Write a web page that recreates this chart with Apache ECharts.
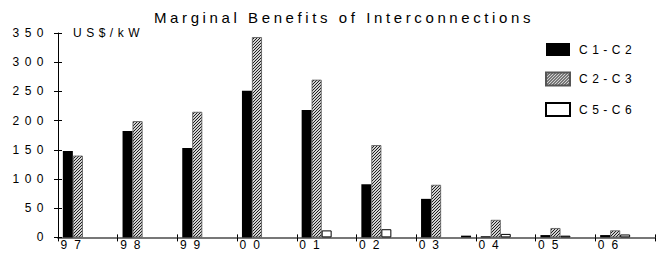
<!DOCTYPE html>
<html><head><meta charset="utf-8">
<script src="https://cdn.jsdelivr.net/npm/echarts@6/dist/echarts.min.js"></script>
<style>html,body{margin:0;padding:0;background:#fff}#c{width:662px;height:258px}</style>
</head><body><div id="c"></div>
<script>
// ---- data ----
const categories = ['97','98','99','00','01','02','03','04','05','06'];
const c1c2 = [148, 182, 153, 251, 218, 91, 66, 2, 4, 4];
const c2c3 = [140, 199, 215, 343, 270, 158, 90, 30, 16, 12];
const c5c6 = [null, null, null, null, 12, 14, null, 6, 3, 5];
// empty slot and an unlabeled (not in legend) small black series seen in the source
const emptySlot = [null, null, null, null, null, null, null, null, null, null];
const unlabeled = [null, null, null, -4, null, -3, 3, null, null, null];
const yMin = 0, yMax = 350, yStep = 50;
const titleText = 'Marginal Benefits of Interconnections';
const unitText = 'US$/kW';
const legendNames = ['C1-C2', 'C2-C3', 'C5-C6'];

function hatch() {
  const c = document.createElement('canvas');
  c.width = 3; c.height = 3;
  const x = c.getContext('2d');
  for (let j = 0; j < 3; j++) for (let i = 0; i < 3; i++) {
    x.fillStyle = ((i + j) % 3 === 0) ? '#1e1e1e' : '#d2d2d2';
    x.fillRect(i, j, 1, 1);
  }
  return c;
}
const hatchFill = { image: hatch(), repeat: 'repeat' };

const chart = echarts.init(document.getElementById('c'), null, { renderer: 'svg' });
const font = 'Liberation Sans, Arial, sans-serif';
const bw = 10;
chart.setOption({
  animation: false,
  backgroundColor: '#fff',
  textStyle: { fontFamily: font, color: '#000' },
  title: {
    text: titleText, left: 339, top: 5, textAlign: 'center',
    textStyle: { fontSize: 15, fontWeight: 'normal', color: '#000', fontFamily: font }
  },
  legend: {
    data: legendNames, orient: 'vertical', left: 545, top: 43, padding: 0,
    itemWidth: 24, itemHeight: 13, itemGap: 15.5, icon: 'rect',
    textStyle: { fontSize: 12, color: '#000', fontFamily: font, padding: [0, 0, 0, 4] }
  },
  grid: { left: 58, right: 7, top: 33, bottom: 20.6, containLabel: false },
  xAxis: [{
    type: 'category', data: categories,
    axisLine: { show: true, lineStyle: { color: '#777', width: 2 } },
    axisTick: { show: true, length: 4, lineStyle: { color: '#000' } },
    axisLabel: { align: 'right', margin: 2, fontSize: 12, color: '#000', fontFamily: font }
  }, {
    type: 'category', data: categories, position: 'bottom',
    axisLine: { show: false },
    axisTick: { show: true, inside: true, length: 3, lineStyle: { color: '#000' } },
    axisLabel: { show: false }
  }],
  yAxis: [{
    type: 'value', min: yMin, max: yMax, interval: yStep,
    name: unitText, nameLocation: 'end', nameGap: 0,
    nameTextStyle: { align: 'left', verticalAlign: 'middle', padding: [0, 0, 0, 15], fontSize: 12, color: '#000', fontFamily: font },
    axisLine: { show: true, lineStyle: { color: '#000', width: 1 } },
    axisTick: { show: true, length: 4, lineStyle: { color: '#000' } },
    splitLine: { show: false },
    axisLabel: { margin: 9, fontSize: 12, color: '#000', fontFamily: font }
  }, {
    type: 'value', min: yMin, max: yMax, interval: yStep, position: 'left',
    axisLine: { show: false },
    axisTick: { show: true, inside: true, length: 4, lineStyle: { color: '#000' } },
    axisLabel: { show: false }, splitLine: { show: false }
  }],
  series: [
    { name: 'C1-C2', type: 'bar', data: c1c2, barWidth: bw, barGap: '0%', itemStyle: { color: '#000' } },
    { name: 'C2-C3', type: 'bar', data: c2c3, barWidth: bw, barGap: '0%', itemStyle: { color: hatchFill, borderColor: '#555', borderWidth: 0.8 } },
    { name: 'C5-C6', type: 'bar', data: c5c6, barWidth: bw, barGap: '0%', itemStyle: { color: '#fff', borderColor: '#000', borderWidth: 1 } },
    { name: 'slot', type: 'bar', data: emptySlot, barWidth: bw, barGap: '0%', itemStyle: { color: '#000' } },
    { name: 'unlabeled', type: 'bar', data: unlabeled, barWidth: bw, barGap: '0%', itemStyle: { color: '#000' } }
  ]
});

function applySpacing() {
  document.querySelectorAll('#c svg text').forEach(t => {
    const s = t.textContent;
    let ls = 5.5;
    if (s === titleText) ls = 3.6;
    else if (categories.indexOf(s) >= 0) ls = 7;
    else if (legendNames.indexOf(s) >= 0 || s === unitText) ls = 4.5;
    t.setAttribute('letter-spacing', ls + 'px');
  });
}
applySpacing();
chart.on('finished', applySpacing);
setTimeout(applySpacing, 50);
</script></body></html>
